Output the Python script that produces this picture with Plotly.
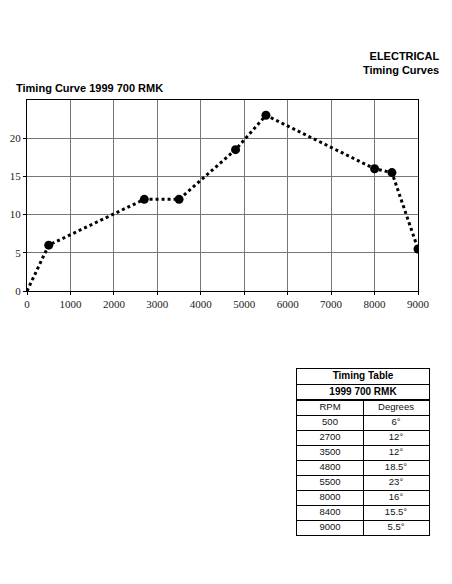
import plotly.graph_objects as go

# timing table values (RPM -> advance degrees)
rpm = [500, 2700, 3500, 4800, 5500, 8000, 8400, 9000]
degrees = [6, 12, 12, 18.5, 23, 16, 15.5, 5.5]
x_ticks = [0, 1000, 2000, 3000, 4000, 5000, 6000, 7000, 8000, 9000]
y_ticks = [0, 5, 10, 15, 20]
table_titles = ["Timing Table", "1999 700 RMK"]
table_header = ["RPM", "Degrees"]

# the page body keeps its default 8px margin, so the figure is a bit smaller
PAD = 8
W, H = 452 - PAD, 584 - PAD
SANS = "Liberation Sans, Arial, sans-serif"
SERIF = "Liberation Serif, Times New Roman, serif"


def px_x(v):
    return (v - PAD) / W


def px_y(v):
    return 1 - (v - PAD) / H


fig = go.Figure()

# dotted curve starts at 0 rpm / 0 degrees
fig.add_scatter(
    x=[0] + rpm,
    y=[0] + degrees,
    mode="lines",
    line=dict(color="black", width=3, dash="dot"),
    showlegend=False,
    hoverinfo="skip",
)
fig.add_scatter(
    x=rpm,
    y=degrees,
    mode="markers",
    marker=dict(color="black", size=9),
    showlegend=False,
)

# table: two merged title rows on their own axes
fig.add_scatter(
    x=[0.5] * len(table_titles),
    y=[i + 0.5 for i in range(len(table_titles))],
    text=[f"<b>{t}</b>" for t in table_titles],
    mode="text",
    textfont=dict(family=SANS, size=10, color="black"),
    xaxis="x2",
    yaxis="y2",
    showlegend=False,
    hoverinfo="skip",
)

# table body: header row + data rows
col_rpm = [table_header[0]] + [str(r) for r in rpm]
col_deg = [table_header[1]] + [f"{d:g}°" for d in degrees]
n_rows = len(col_rpm)
fig.add_scatter(
    x=[0.5] * n_rows + [1.5] * n_rows,
    y=[i + 0.5 for i in range(n_rows)] * 2,
    text=col_rpm + col_deg,
    mode="text",
    textfont=dict(family=SANS, size=9.5, color="#111"),
    xaxis="x3",
    yaxis="y3",
    showlegend=False,
    hoverinfo="skip",
)

axis_common = dict(
    ticks="outside",
    ticklen=3,
    tickcolor="black",
    showgrid=True,
    gridcolor="#777",
    gridwidth=1,
    zeroline=False,
    showline=True,
    linecolor="black",
    mirror=True,
    automargin=False,
    tickfont=dict(family=SERIF, size=11, color="#222"),
)
table_axis = dict(
    showticklabels=False,
    ticks="",
    showgrid=True,
    gridcolor="black",
    gridwidth=1,
    zeroline=False,
    showline=True,
    linecolor="black",
    linewidth=1,
    mirror=True,
    automargin=False,
    fixedrange=True,
)

fig.update_layout(
    xaxis=dict(domain=[px_x(27), px_x(418)], range=[0, 9000], tickvals=x_ticks, **axis_common),
    yaxis=dict(domain=[px_y(291), px_y(100)], range=[0, 25], tickvals=y_ticks, **axis_common),
    xaxis2=dict(domain=[px_x(297), px_x(429)], range=[0, 1], tickvals=[], anchor="y2", **table_axis),
    yaxis2=dict(domain=[px_y(400), px_y(369)], range=[len(table_titles), 0], tickvals=[1], anchor="x2", **table_axis),
    xaxis3=dict(domain=[px_x(297), px_x(429)], range=[0, 2], tickvals=[1], anchor="y3", **table_axis),
    yaxis3=dict(
        domain=[px_y(535), px_y(400)],
        range=[n_rows, 0],
        tickvals=list(range(1, n_rows)),
        anchor="x3",
        **table_axis,
    ),
)

fig.add_annotation(
    text="<b>ELECTRICAL</b><br><b>Timing Curves</b>",
    xref="paper", yref="paper",
    x=px_x(441), y=px_y(48),
    xanchor="right", yanchor="top",
    align="right",
    showarrow=False,
    font=dict(family=SANS, size=11, color="black"),
)
fig.add_annotation(
    text="<b>Timing Curve 1999 700 RMK</b>",
    xref="paper", yref="paper",
    x=px_x(14), y=px_y(80),
    xanchor="left", yanchor="top",
    showarrow=False,
    font=dict(family=SANS, size=11, color="black"),
)

fig.update_layout(
    width=W,
    height=H,
    margin=dict(l=0, r=0, t=0, b=0),
    paper_bgcolor="white",
    plot_bgcolor="white",
)

fig.write_html("out.html")
